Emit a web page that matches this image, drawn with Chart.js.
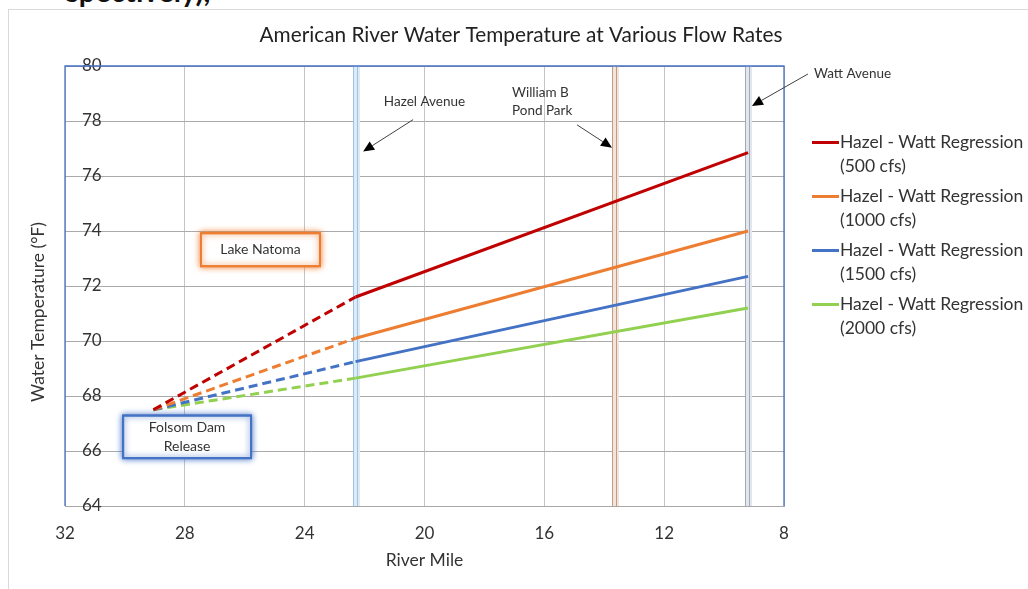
<!DOCTYPE html>
<html><head><meta charset="utf-8">
<script src="https://cdn.jsdelivr.net/npm/chart.js@4/dist/chart.umd.min.js"></script>
<style>
html,body{margin:0;padding:0;background:#fff;overflow:hidden}
#wrap{position:relative;width:1028px;height:589px;overflow:hidden}
#frame{position:absolute;left:8px;top:9px;width:1100px;height:700px;border:1px solid #d9d9d9;box-sizing:border-box}
#cut{position:absolute;left:66px;top:-24px;font:bold 29px/1 Lato, sans-serif;color:#111;white-space:nowrap}
canvas{position:absolute;left:0;top:0}
#legend{position:absolute;left:812px;top:130px;font-family:Lato, sans-serif;font-size:17.5px;color:#333}
.item{display:flex;align-items:flex-start;margin-bottom:6px}
.sw{width:27px;height:3px;margin-top:11px;margin-right:1px}
.txt{line-height:24px;white-space:nowrap}
</style></head>
<body><div id="wrap">
<div id="frame"></div>
<div id="cut">spectively),</div>
<canvas id="c" width="1028" height="589"></canvas>
<div id="legend"></div>
</div>
<script>
// ---- data ----
const riverMiles = [29.05, 22.3, 9.2];          // Folsom release, Hazel Ave, Watt Ave
const seriesNames = ['Hazel - Watt Regression|(500 cfs)','Hazel - Watt Regression|(1000 cfs)','Hazel - Watt Regression|(1500 cfs)','Hazel - Watt Regression|(2000 cfs)'];
const temp500  = [67.5, 71.6, 76.85];
const temp1000 = [67.5, 70.1, 74.0];
const temp1500 = [67.5, 69.25, 72.35];
const temp2000 = [67.5, 68.65, 71.2];
const xTicks = [32, 28, 24, 20, 16, 12, 8];
const yTicks = [64, 66, 68, 70, 72, 74, 76, 78, 80];
const landmarkMiles = [22.3, 13.65, 9.2];       // Hazel, William B Pond Park, Watt

const colors = ['#C00000', '#ED7D31', '#4472C4', '#92D050'];
const allTemps = [temp500, temp1000, temp1500, temp2000];
const FONT = 'Lato, sans-serif';
const TITLE = 'American River Water Temperature at Various Flow Rates';
const Y_TITLE = 'Water Temperature (°F)';

const datasets = [];
allTemps.forEach((t, i) => {
  datasets.push({label: seriesNames[i] + ' (extrapolated)', data: [{x: riverMiles[0], y: t[0]}, {x: riverMiles[1], y: t[1]}],
    borderColor: colors[i], borderWidth: 3, borderDash: [9, 5], pointRadius: 0, fill: false});
  datasets.push({label: seriesNames[i], data: [{x: riverMiles[1], y: t[1]}, {x: riverMiles[2], y: t[2]}],
    borderColor: colors[i], borderWidth: 3, pointRadius: 0, fill: false});
});

const landmarkStyle = [
  {light: '#DDEBF7', dark: '#9DC3E6'},
  {light: '#F1E4DB', dark: '#C39A82'},
  {light: '#E3E6EC', dark: '#A2ABBC'}
];

function arrow(ctx, x1, y1, x2, y2) {
  ctx.save();
  ctx.strokeStyle = '#404040'; ctx.fillStyle = '#000'; ctx.lineWidth = 1;
  const a = Math.atan2(y2 - y1, x2 - x1);
  const L = 11, W = 5;
  const bx = x2 - L * Math.cos(a), by = y2 - L * Math.sin(a);
  ctx.beginPath(); ctx.moveTo(x1, y1); ctx.lineTo(bx, by); ctx.stroke();
  ctx.beginPath(); ctx.moveTo(x2, y2);
  ctx.lineTo(bx + W * Math.sin(a), by - W * Math.cos(a));
  ctx.lineTo(bx - W * Math.sin(a), by + W * Math.cos(a));
  ctx.closePath(); ctx.fill();
  ctx.restore();
}

function box(ctx, x1, y1, x2, y2, color, lines) {
  ctx.save();
  ctx.shadowColor = color; ctx.shadowBlur = 6;
  ctx.fillStyle = '#fff'; ctx.fillRect(x1, y1, x2 - x1, y2 - y1);
  ctx.strokeStyle = color; ctx.lineWidth = 2;
  ctx.strokeRect(x1, y1, x2 - x1, y2 - y1);
  ctx.shadowBlur = 0;
  ctx.strokeRect(x1, y1, x2 - x1, y2 - y1);
  ctx.fillStyle = '#333'; ctx.font = '14px ' + FONT; ctx.textAlign = 'center'; ctx.textBaseline = 'middle';
  const cx = (x1 + x2) / 2, cy = (y1 + y2) / 2, lh = 19;
  lines.forEach((l, k) => ctx.fillText(l, cx, cy + (k - (lines.length - 1) / 2) * lh));
  ctx.restore();
}

const annoPlugin = {
  id: 'anno',
  beforeDatasetsDraw(chart) {
    const {ctx, chartArea: ca, scales: {x}} = chart;
    ctx.save();
    landmarkMiles.forEach((m, i) => {
      const px = Math.round(x.getPixelForValue(m));
      ctx.fillStyle = landmarkStyle[i].light;
      ctx.fillRect(px - 3, ca.top, 7, ca.bottom - ca.top);
      ctx.strokeStyle = landmarkStyle[i].dark; ctx.lineWidth = 1;
      [-2.5, 1.5].forEach(o => { ctx.beginPath(); ctx.moveTo(px + o, ca.top); ctx.lineTo(px + o, ca.bottom); ctx.stroke(); });
    });
    ctx.restore();
  },
  afterDraw(chart) {
    const {ctx, chartArea: ca, scales: {x, y}} = chart;
    ctx.save();
    ctx.strokeStyle = '#4472C4'; ctx.lineWidth = 1.3;
    ctx.beginPath();
    ctx.moveTo(ca.left, ca.bottom); ctx.lineTo(ca.left, ca.top); ctx.lineTo(ca.right, ca.top); ctx.lineTo(ca.right, ca.bottom);
    ctx.stroke();
    // chart title
    ctx.fillStyle = '#222'; ctx.font = '20.8px ' + FONT; ctx.textAlign = 'center'; ctx.textBaseline = 'middle';
    ctx.fillText(TITLE, 521, 35);
    // y axis title
    ctx.save();
    ctx.translate(38, 312); ctx.rotate(-Math.PI / 2);
    ctx.fillStyle = '#333'; ctx.font = '17.5px ' + FONT;
    ctx.fillText(Y_TITLE, 0, 0);
    ctx.restore();
    ctx.fillStyle = '#333'; ctx.font = '13.5px ' + FONT;
    ctx.fillText('Hazel Avenue', x.getPixelForValue(20.0), y.getPixelForValue(78.7));
    ctx.textAlign = 'left';
    ctx.fillText('William B', x.getPixelForValue(17.08), y.getPixelForValue(79.02));
    ctx.fillText('Pond Park', x.getPixelForValue(17.08), y.getPixelForValue(78.37));
    ctx.fillText('Watt Avenue', x.getPixelForValue(7.0), y.getPixelForValue(79.71));
    arrow(ctx, x.getPixelForValue(20.38), y.getPixelForValue(78.05), x.getPixelForValue(22.05), y.getPixelForValue(76.89));
    arrow(ctx, x.getPixelForValue(14.91), y.getPixelForValue(77.86), x.getPixelForValue(13.74), y.getPixelForValue(77.03));
    arrow(ctx, x.getPixelForValue(7.2), y.getPixelForValue(79.71), x.getPixelForValue(9.07), y.getPixelForValue(78.55));
    box(ctx, x.getPixelForValue(27.46), y.getPixelForValue(73.92), x.getPixelForValue(23.49), y.getPixelForValue(72.72), '#ED7D31', ['Lake Natoma']);
    box(ctx, x.getPixelForValue(30.06), y.getPixelForValue(67.29), x.getPixelForValue(25.79), y.getPixelForValue(65.74), '#4472C4', ['Folsom Dam', 'Release']);
    ctx.restore();
  }
};

const chart = new Chart(document.getElementById('c'), {
  type: 'line',
  data: {datasets},
  options: {
    responsive: false, animation: false, devicePixelRatio: 1,
    layout: {padding: {left: 0, right: 244, top: 66, bottom: 0}},
    plugins: {legend: {display: false}, tooltip: {enabled: false}, title: {display: false}},
    scales: {
      x: {type: 'linear', reverse: true, min: 8, max: 32,
        afterBuildTicks(s) { s.ticks = xTicks.map(v => ({value: v})); },
        ticks: {padding: 17, font: {family: FONT, size: 17}, color: '#333'},
        grid: {color: '#c4c4c4', drawTicks: false}, border: {color: '#a8a8a8'},
        title: {display: true, text: 'River Mile', font: {family: FONT, size: 17.5}, color: '#333', padding: {top: 4, bottom: 18.5}},
        afterFit(s) { s.height = 83; }},
      y: {min: 64, max: 80,
        afterBuildTicks(s) { s.ticks = yTicks.map(v => ({value: v})); },
        ticks: {mirror: true, padding: 17, font: {family: FONT, size: 17}, color: '#333'},
        grid: {color: '#aaaaaa', drawTicks: false}, border: {display: false},
        title: {display: false},
        afterFit(s) { s.width = 65; }}
    }
  },
  plugins: [annoPlugin]
});

// HTML legend built from the solid datasets
const leg = document.getElementById('legend');
chart.data.datasets.filter((d, i) => i % 2 === 1).forEach(d => {
  const it = document.createElement('div'); it.className = 'item';
  const sw = document.createElement('div'); sw.className = 'sw'; sw.style.background = d.borderColor;
  const tx = document.createElement('div'); tx.className = 'txt'; tx.innerHTML = d.label.split('|').join('<br>');
  it.appendChild(sw); it.appendChild(tx); leg.appendChild(it);
});
</script>
</body></html>
